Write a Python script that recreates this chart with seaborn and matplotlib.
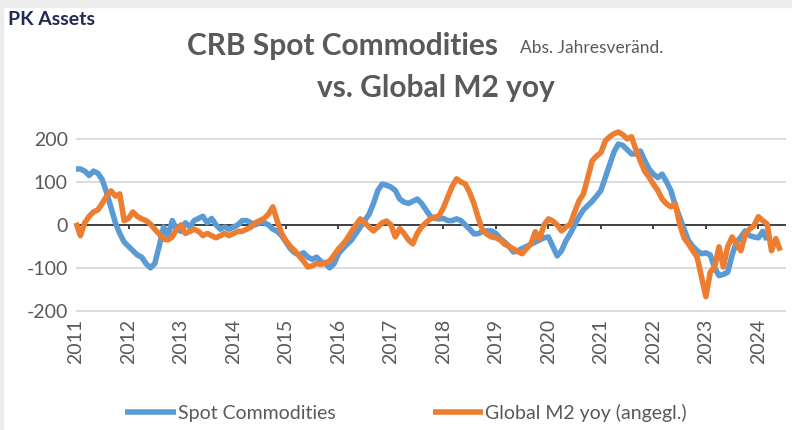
import numpy as np
import pandas as pd
import matplotlib
matplotlib.use("Agg")
import matplotlib.pyplot as plt
import seaborn as sns

# monthly values, Jan 2011 onwards
spot = [
    130, 130, 125, 115, 125, 120, 105, 75, 40, 5, -20, -40,        # 2011
    -50, -60, -70, -75, -90, -100, -90, -50, -5, -25, 10, -10,      # 2012
    -15, 5, -5, 10, 15, 20, 5, 15, 0, -10, -5, -10,                 # 2013
    -5, 0, 10, 10, 5, 0, 5, 5, 0, -10, -15, -25,                    # 2014
    -40, -55, -65, -70, -65, -75, -80, -75, -85, -90, -100, -90,    # 2015
    -67, -55, -45, -35, -20, -5, 10, 25, 50, 80, 95, 92,            # 2016
    88, 80, 60, 53, 50, 55, 60, 50, 35, 20, 15, 14,                 # 2017
    15, 10, 10, 14, 10, 0, -10, -21, -20, -15, -14, -14,            # 2018
    -20, -32, -40, -50, -63, -60, -55, -50, -45, -40, -35, -30,     # 2019
    -28, -50, -72, -60, -37, -20, 0, 19, 35, 45, 55, 67,            # 2020
    80, 110, 140, 170, 188, 185, 175, 165, 165, 172, 150, 130,      # 2021
    118, 110, 118, 100, 80, 45, 18, -10, -36, -50, -60, -67,        # 2022
    -65, -70, -100, -118, -115, -110, -70, -40, -28, -14, -25, -28, # 2023
    -30, -15, -35,                                                  # 2024
]
m2 = [
    5, -25, 5, 20, 30, 35, 50, 67, 79, 67, 72, 10,                  # 2011
    15, 30, 20, 14, 10, 2, -10, -21, -33, -35, -28, -10,            # 2012
    0, -20, -15, -10, -15, -25, -20, -25, -30, -25, -20, -25,       # 2013
    -20, -15, -15, -10, -5, 5, 10, 15, 25, 42, 9, -20,              # 2014
    -37, -50, -60, -72, -84, -98, -95, -90, -92, -88, -84, -70,     # 2015
    -56, -45, -32, -15, 0, 14, 5, -5, -14, -5, 5, 9,                # 2016
    0, -28, -9, -20, -35, -44, -20, -5, 5, 14, 18, 21,              # 2017
    40, 65, 90, 107, 100, 95, 75, 49, 15, -14, -22, -28,            # 2018
    -30, -35, -45, -50, -56, -62, -67, -55, -44, -16, -32, 0,       # 2019
    14, 9, 0, -14, -5, 2, 30, 56, 72, 110, 149, 160,                # 2020
    168, 195, 205, 212, 216, 210, 200, 205, 175, 149, 125, 111,     # 2021
    95, 80, 60, 49, 42, 49, 2, -30, -44, -60, -75, -121,            # 2022
    -167, -110, -98, -51, -98, -50, -28, -45, -60, -21, -10, -2,    # 2023
    19, 10, 2, -60, -32, -60,                                       # 2024
]
years = list(range(2011, 2025))
yticks = [-200, -100, 0, 100, 200]

blue = "#5B9BD5"
orange = "#ED7D31"
grey = "#595959"

df_spot = pd.DataFrame({"t": 2011 + np.arange(len(spot)) / 12, "v": spot})
df_m2 = pd.DataFrame({"t": 2011 + np.arange(len(m2)) / 12, "v": m2})

sns.set_style("white")
plt.rcParams["font.family"] = ["Lato", "DejaVu Sans"]

fig = plt.figure(figsize=(7.92, 4.30), dpi=100)
ax = fig.add_axes([0.096, 0.277, 0.896, 0.400])

# light frame at top/left like the screenshot
fig.patches.append(plt.Rectangle((0, 0.983), 1, 0.017, transform=fig.transFigure,
                                 color="#ECECEC", zorder=0))
fig.patches.append(plt.Rectangle((0, 0), 0.004, 1, transform=fig.transFigure,
                                 color="#ECECEC", zorder=0))

for yv in yticks:
    if yv != 0:
        ax.axhline(yv, color="#D9D9D9", lw=1.3, zorder=0)
ax.axhline(0, color="#404040", lw=1.4, zorder=1)
for yr in years:
    ax.plot([yr, yr], [0, -10], color="#404040", lw=1.4, zorder=1)

sns.lineplot(data=df_spot, x="t", y="v", ax=ax, color=blue, lw=4.0,
             label="Spot Commodities", zorder=3)
sns.lineplot(data=df_m2, x="t", y="v", ax=ax, color=orange, lw=4.0,
             label="Global M2 yoy (angegl.)", zorder=4)
for ln in ax.lines:
    ln.set_clip_on(False)
    ln.set_solid_capstyle("butt")

ax.set_xlim(2011, 2024.52)
ax.set_ylim(-200, 200)
ax.set_yticks(yticks)
ax.set_yticklabels([str(v) for v in yticks], fontsize=14, color=grey)
ax.set_xticks(years)
ax.set_xticklabels([str(y) for y in years], rotation=90, fontsize=14, color=grey)
ax.tick_params(axis="both", length=0, pad=6)
ax.set_xlabel("")
ax.set_ylabel("")
for s in ax.spines.values():
    s.set_visible(False)

leg = ax.legend(loc="upper center", bbox_to_anchor=(0.465, -0.44), ncol=2,
                frameon=False, fontsize=14, handlelength=2.6, handletextpad=0.1,
                columnspacing=5.0)
for t in leg.get_texts():
    t.set_color(grey)

fig.text(0.010, 0.955, "PK Assets", fontsize=14, fontweight="bold",
         color="#1F2A56", va="center", ha="left")
fig.text(0.236, 0.893, "CRB Spot Commodities", fontsize=21.5, fontweight="bold",
         color=grey, va="center", ha="left")
fig.text(0.657, 0.888, "Abs. Jahresveränd.", fontsize=12.5, color=grey,
         va="center", ha="left")
fig.text(0.55, 0.795, "vs. Global M2 yoy", fontsize=21.5, fontweight="bold",
         color=grey, va="center", ha="center")

fig.savefig("out.png", dpi=100)
